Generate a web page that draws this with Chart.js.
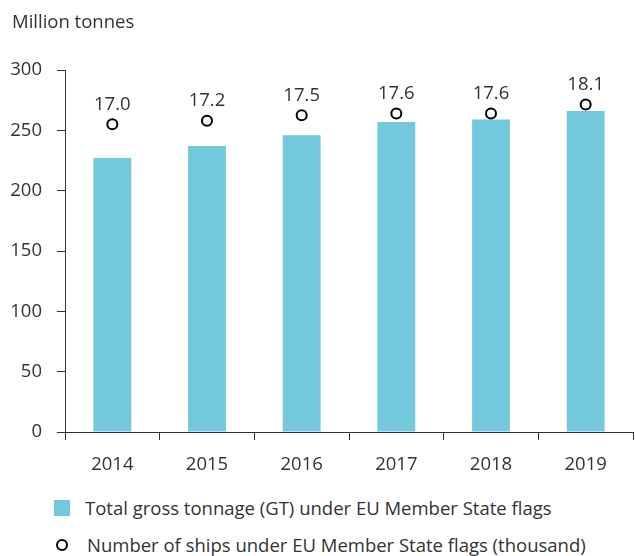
<!DOCTYPE html>
<html>
<head>
<meta charset="utf-8">
<script src="https://cdn.jsdelivr.net/npm/chart.js@4/dist/chart.umd.min.js"></script>
<style>
    body { margin: 0; background: #fff; font-family: "Open Sans", sans-serif; color: #333; }
    #wrap { position: relative; width: 635px; height: 556px; }
    #unit { position: absolute; left: 12px; top: 8px; font-size: 18.5px; }
    #chartBox { position: absolute; left: 0; top: 0; width: 635px; height: 480px; }
    .legend-row { position: absolute; left: 54px; font-size: 18.5px; display: flex; align-items: center; }
    .legend-row .sw { width: 16px; height: 16px; background: #73c9db; margin-right: 15px; }
    .legend-row .dot { width: 8px; height: 8px; border: 2px solid #000; border-radius: 50%; margin: 0 19px 0 2px; }
</style>
</head>
<body>
<div id="wrap">
    <div id="chartBox"><canvas id="chart"></canvas></div>
    <div id="unit">Million tonnes</div>
    <div class="legend-row" style="top:495px"><span class="sw"></span>Total gross tonnage (GT) under EU Member State flags</div>
    <div class="legend-row" style="top:532px"><span class="dot"></span>Number of ships under EU Member State flags (thousand)</div>
</div>
<script>
// values
const years = ['2014', '2015', '2016', '2017', '2018', '2019'];
const grossTonnage = [227, 237, 246, 257, 259, 266];   // million GT
const ships = [17.0, 17.2, 17.5, 17.6, 17.6, 18.1];     // thousand
const yTicks = [0, 50, 100, 150, 200, 250, 300];

Chart.defaults.font.family = '"Open Sans", sans-serif';
Chart.defaults.font.size = 18.5;
Chart.defaults.color = '#333';

// numbers above the ship markers
const shipLabels = {
    id: 'shipLabels',
    afterDatasetsDraw(chart) {
        const ctx = chart.ctx;
        const meta = chart.getDatasetMeta(1);
        ctx.save();
        ctx.font = '18.5px "Open Sans", sans-serif';
        ctx.fillStyle = '#333';
        ctx.textAlign = 'center';
        ctx.textBaseline = 'middle';
        meta.data.forEach(function (pt, i) {
            ctx.fillText(ships[i].toFixed(1), pt.x, pt.y - 20);
        });
        ctx.restore();
    }
};

new Chart(document.getElementById('chart'), {
    type: 'bar',
    data: {
        labels: years,
        datasets: [{
            label: 'Total gross tonnage (GT) under EU Member State flags',
            data: grossTonnage,
            backgroundColor: '#73c9db',
            categoryPercentage: 1,
            barPercentage: 0.4,
            yAxisID: 'y',
            order: 2
        }, {
            type: 'line',
            label: 'Number of ships under EU Member State flags (thousand)',
            data: ships,
            showLine: false,
            pointRadius: 5,
            pointBorderWidth: 2,
            pointBackgroundColor: '#fff',
            pointBorderColor: '#000',
            yAxisID: 'y2',
            order: 1
        }]
    },
    options: {
        responsive: true,
        maintainAspectRatio: false,
        animation: false,
        layout: { autoPadding: false, padding: { top: 70, right: 2, left: 0, bottom: 0 } },
        plugins: {
            legend: { display: false },
            tooltip: { enabled: false }
        },
        scales: {
            x: {
                offset: true,
                grid: { drawOnChartArea: false, drawTicks: true, tickLength: 8, color: '#333', offset: true },
                border: { color: '#333' },
                ticks: { padding: 14 },
                afterFit: function (s) { s.height = 48; s.paddingLeft = 0; s.paddingRight = 0; }
            },
            y: {
                min: 0,
                max: 300,
                afterBuildTicks: function (s) { s.ticks = yTicks.map(function (v) { return { value: v }; }); },
                grid: { drawOnChartArea: false, drawTicks: true, tickLength: 8, color: '#333' },
                border: { color: '#333' },
                ticks: { padding: 15 },
                afterFit: function (s) { s.width = 65; s.paddingTop = 0; s.paddingBottom = 0; }
            },
            y2: {
                display: false,
                min: 0,
                max: 20
            }
        }
    },
    plugins: [shipLabels]
});
</script>
</body>
</html>
